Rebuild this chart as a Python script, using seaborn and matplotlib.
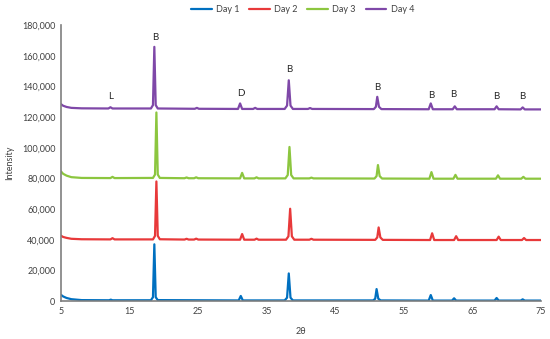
import matplotlib
matplotlib.use("Agg")
import matplotlib.pyplot as plt
import matplotlib.ticker as mticker
import seaborn as sns
import pandas as pd

# ---- data ----
day1_x = [5, 5.3, 5.8, 6.5, 8, 12.0, 12.25, 12.5,
          18.1, 18.4, 18.6, 18.8, 19.1,
          30.9, 31.2, 31.5,
          37.6, 37.95, 38.2, 38.45, 38.8,
          50.5, 50.8, 51.0, 51.25, 51.6,
          58.6, 58.9, 59.2, 62.0, 62.3, 62.6,
          68.2, 68.5, 68.8, 72.0, 72.3, 72.6, 75]
day1_y = [4000, 3000, 2000, 1200, 600, 500, 900, 500,
          500, 2500, 37000, 2500, 600,
          400, 3300, 400,
          400, 2200, 18000, 2200, 400,
          400, 1500, 7800, 1500, 400,
          300, 3900, 300, 300, 1800, 300,
          300, 2000, 300, 300, 1100, 300, 300]

day2_x = [5, 5.3, 5.8, 6.5, 8, 12.2, 12.5, 12.8,
          18.4, 18.7, 18.9, 19.1, 19.4,
          23.0, 23.3, 23.6, 24.4, 24.7, 25.0,
          31.1, 31.4, 31.7, 33.2, 33.5, 33.8,
          37.8, 38.15, 38.4, 38.65, 39.0,
          41.2, 41.5, 41.8,
          50.8, 51.1, 51.3, 51.55, 51.9,
          58.8, 59.1, 59.4, 62.3, 62.6, 62.9,
          68.5, 68.8, 69.1, 72.2, 72.5, 72.8, 75]
day2_y = [42600, 41800, 41200, 40600, 40300, 40200, 41000, 40200,
          40200, 42500, 78000, 42500, 40300,
          40100, 40600, 40100, 40100, 40700, 40100,
          40000, 43700, 40000, 40000, 40700, 40000,
          40000, 42200, 60200, 42200, 40000,
          40000, 40600, 40000,
          39900, 41500, 48000, 41500, 39900,
          39800, 44200, 39800, 39800, 42300, 39800,
          39800, 42000, 39800, 39800, 41100, 39800, 39800]

day3_x = [5, 5.3, 5.8, 6.5, 8, 12.2, 12.5, 12.8,
          18.4, 18.7, 18.9, 19.1, 19.4,
          23.0, 23.3, 23.6, 24.4, 24.7, 25.0,
          31.1, 31.4, 31.7, 33.2, 33.5, 33.8,
          37.7, 38.05, 38.3, 38.55, 38.9,
          41.2, 41.5, 41.8,
          50.7, 51.0, 51.2, 51.45, 51.8,
          58.7, 59.0, 59.3, 62.2, 62.5, 62.8,
          68.4, 68.7, 69.0, 72.1, 72.4, 72.7, 75]
day3_y = [84500, 83000, 81800, 80800, 80300, 80200, 81000, 80200,
          80300, 82500, 123000, 82500, 80300,
          80100, 80600, 80100, 80100, 80700, 80100,
          80000, 83600, 80000, 80000, 80700, 80000,
          80000, 82200, 100500, 82200, 80000,
          80000, 80500, 80000,
          79900, 81500, 88700, 81500, 79900,
          79800, 84100, 79800, 79800, 82300, 79800,
          79800, 82000, 79800, 79800, 81000, 79800, 79800]

day4_x = [5, 5.3, 5.8, 6.5, 8, 11.9, 12.2, 12.5,
          18.1, 18.4, 18.6, 18.8, 19.1,
          24.5, 24.8, 25.1,
          30.8, 31.1, 31.4, 33.0, 33.3, 33.6,
          37.6, 37.95, 38.2, 38.45, 38.8,
          41.0, 41.3, 41.6,
          50.6, 50.9, 51.1, 51.35, 51.7,
          58.6, 58.9, 59.2, 62.1, 62.4, 62.7,
          68.2, 68.5, 68.8, 72.0, 72.3, 72.6, 75]
day4_y = [128400, 127400, 126600, 126000, 125700, 125600, 126400, 125600,
          125600, 127800, 165800, 127800, 125600,
          125400, 126000, 125400,
          125300, 128900, 125300, 125300, 126000, 125300,
          125300, 127500, 144000, 127500, 125300,
          125300, 125900, 125300,
          125200, 126700, 133200, 126700, 125200,
          125100, 128900, 125100, 125100, 127000, 125100,
          125100, 127000, 125100, 125000, 126300, 125000, 125000]

series_names = ["Day 1", "Day 2", "Day 3", "Day 4"]
series_colors = ["#0070C0", "#E8393A", "#8CC63F", "#7F48A8"]

label_text = ["L", "B", "D", "B", "B", "B", "B", "B", "B"]
label_x = [12.3, 18.75, 31.25, 38.2, 51.1, 58.9, 62.2, 68.5, 72.3]
label_y = [133200, 171700, 135500, 151000, 139300, 133900, 134800, 133200, 133200]

x_ticks = [5, 15, 25, 35, 45, 55, 65, 75]
y_ticks = list(range(0, 180001, 20000))

# ---- build long-form table ----
frames = []
for name, xs, ys in zip(series_names, [day1_x, day2_x, day3_x, day4_x],
                        [day1_y, day2_y, day3_y, day4_y]):
    frames.append(pd.DataFrame({"2θ": xs, "Intensity": ys, "Day": name}))
df = pd.concat(frames, ignore_index=True)

sns.set_theme(style="white")
plt.rcParams["font.family"] = ["Lato", "DejaVu Sans"]

fig = plt.figure(figsize=(5.5, 3.39), dpi=100)
ax = fig.add_axes([0.111, 0.112, 0.873, 0.814])

sns.lineplot(data=df, x="2θ", y="Intensity", hue="Day", palette=series_colors,
             estimator=None, sort=False, linewidth=1.6, ax=ax)

for t, xx, yy in zip(label_text, label_x, label_y):
    ax.text(xx, yy, t, ha="center", va="center", fontsize=7, color="#262626")

ax.set_xlim(5, 75)
ax.set_ylim(0, 180000)
ax.set_xticks(x_ticks)
ax.set_yticks(y_ticks)
ax.yaxis.set_major_formatter(mticker.FuncFormatter(lambda v, p: f"{int(v):,}"))
ax.tick_params(axis="both", length=0, labelsize=6.5, colors="#404040", pad=4)
ax.set_xlabel("2θ", fontsize=6.5, color="#404040", labelpad=8)
ax.set_ylabel("Intensity", fontsize=6.5, color="#404040", labelpad=6)

for s in ["top", "right"]:
    ax.spines[s].set_visible(False)
for s in ["left", "bottom"]:
    ax.spines[s].set_color("#7F7F7F")
    ax.spines[s].set_linewidth(1.2)

leg = ax.legend(loc="upper center", bbox_to_anchor=(0.55, 1.0),
                bbox_transform=fig.transFigure, ncol=4, frameon=False,
                fontsize=6.5, handlelength=2.3, columnspacing=1.1,
                handletextpad=0.45, borderaxespad=0.2)
for line in leg.get_lines():
    line.set_linewidth(1.6)
for txt in leg.get_texts():
    txt.set_color("#404040")

fig.savefig("out.png", dpi=100)
